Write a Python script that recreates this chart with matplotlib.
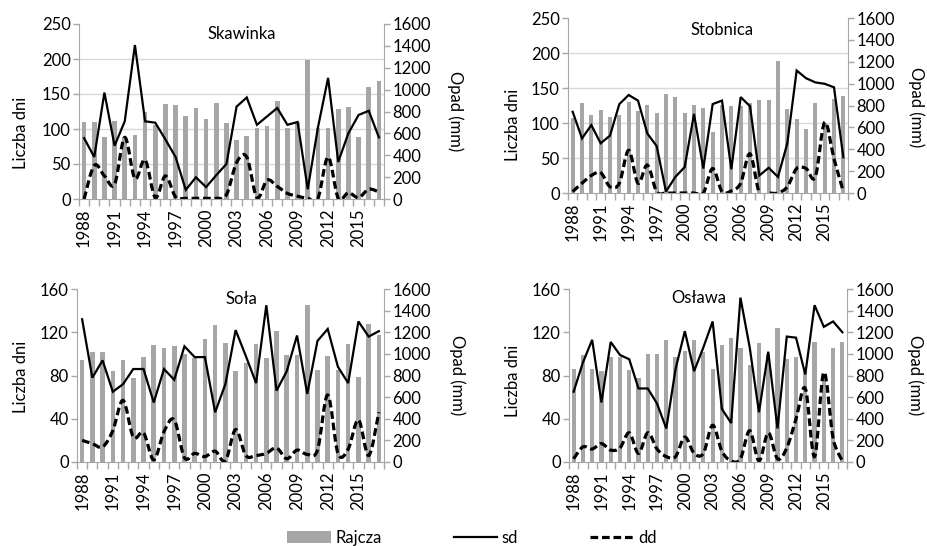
import numpy as np
import matplotlib
matplotlib.use("Agg")
import matplotlib.pyplot as plt
from matplotlib.path import Path
from matplotlib.patches import PathPatch, Patch
from matplotlib.lines import Line2D

plt.rcParams['font.family'] = ['Lato', 'DejaVu Sans']
plt.rcParams['font.size'] = 12

# Years on the x axis.
years = list(range(1988, 2018))

# Skawinka: precipitation (mm, bars) and day counts sd / dd (lines).
skawinka_opad = [704, 704, 570, 717, 563, 582, 800, 678, 870, 858,
                 762, 832, 730, 877, 691, 544, 576, 653, 672, 896,
                 653, 704, 1274, 653, 653, 819, 838, 563, 1024, 1075]
skawinka_sd = [87, 60, 152, 76, 111, 220, 111, 109, 85, 60,
               13, 31, 17, 34, 50, 132, 145, 106, 118, 130,
               106, 110, 14, 102, 173, 53, 94, 120, 126, 88]
skawinka_dd = [0, 48, 33, 21, 88, 29, 56, 2, 33, 3,
               1, 1, 1, 1, 6, 52, 60, 2, 27, 18,
               8, 4, 1, 1, 60, 1, 9, 2, 14, 10]

# Stobnica.
stobnica_opad = [685, 826, 710, 755, 691, 717, 832, 749, 806, 736,
                 909, 877, 730, 806, 774, 557, 806, 800, 800, 819,
                 851, 851, 1210, 768, 678, 582, 819, 640, 864, 890]
stobnica_sd = [116, 78, 97, 71, 82, 127, 140, 132, 85, 67,
               2, 23, 37, 113, 35, 127, 132, 34, 137, 124,
               25, 36, 23, 71, 175, 164, 158, 156, 151, 51]
stobnica_dd = [2, 14, 25, 29, 9, 14, 61, 14, 40, 2,
               0, 0, 0, 0, 0, 35, 2, 3, 14, 56,
               0, 0, 0, 9, 35, 35, 23, 101, 49, 2]

# Sola.
sola_opad = [940, 1020, 1020, 840, 940, 780, 970, 1080, 1050, 1070,
             1000, 960, 1140, 1270, 1100, 840, 920, 1090, 960, 1210,
             990, 990, 1450, 850, 980, 850, 1090, 790, 1280, 1170]
sola_sd = [132, 78, 94, 65, 72, 86, 86, 55, 86, 76,
           107, 97, 97, 46, 72, 122, 98, 73, 145, 66,
           84, 117, 63, 112, 123, 88, 73, 130, 116, 121]
sola_dd = [20, 17, 14, 29, 57, 23, 27, 2, 28, 39,
           4, 8, 5, 10, 1, 30, 6, 6, 8, 13,
           3, 11, 7, 11, 62, 8, 12, 39, 6, 46]

# Oslawa.
oslawa_opad = [860, 990, 860, 840, 970, 970, 850, 780, 1000, 1000,
               1130, 970, 1030, 1130, 1020, 860, 1080, 1150, 1050, 900,
               1100, 1000, 1240, 950, 970, 850, 1110, 800, 1050, 1110]
oslawa_sd = [65, 92, 113, 55, 111, 99, 95, 68, 68, 54,
             31, 86, 121, 84, 106, 130, 49, 36, 152, 106,
             46, 102, 31, 116, 115, 81, 145, 125, 130, 120]
oslawa_dd = [3, 14, 12, 17, 11, 13, 27, 8, 27, 12,
             5, 5, 23, 8, 8, 34, 10, 1, 3, 29,
             1, 27, 3, 13, 40, 68, 5, 83, 22, 1]

GRID = '#d9d9d9'
SPINE = '#a6a6a6'
BAR = '#a6a6a6'


# Smoothed curve (Excel style) built from Bezier segments through the points.
def SmoothPath(x, y):
    n = len(x)
    verts = [(x[0], y[0])]
    codes = [Path.MOVETO]
    for i in range(n - 1):
        xa, ya = (x[i-1], y[i-1]) if i > 0 else (x[i], y[i])
        xb, yb = (x[i+2], y[i+2]) if i + 2 < n else (x[i+1], y[i+1])
        c1 = (x[i] + (x[i+1] - xa) / 6.0, y[i] + (y[i+1] - ya) / 6.0)
        c2 = (x[i+1] - (xb - x[i]) / 6.0, y[i+1] - (yb - y[i]) / 6.0)
        verts += [c1, c2, (x[i+1], y[i+1])]
        codes += [Path.CURVE4] * 3
    return Path(verts, codes)


# Draw one panel.
def Panel(fig, rect, name, opad, sd, dd, lmax, lstep, tpos, lab_l, lab_r):
    ax = fig.add_axes(rect)
    ax2 = ax.twinx()
    ax.set_zorder(ax2.get_zorder() + 1)
    ax.patch.set_visible(False)

    x = np.arange(len(years))
    rmax = 1600

    # Bars on the precipitation axis.
    ax2.bar(x, opad, width=0.45, color=BAR, zorder=2)
    ax2.set_ylim(0, rmax)
    ax2.set_yticks(np.arange(0, rmax + 1, 200))
    nl = int(lmax / lstep) + 1
    ax2.set_yticks(np.linspace(0, rmax, nl), minor=True)
    ax2.yaxis.grid(True, which='minor', color=GRID, lw=1, zorder=0)
    ax2.set_axisbelow(True)
    ax2.tick_params(axis='y', which='major', colors=SPINE, labelcolor='black',
                    length=4, width=1, pad=2)
    ax2.tick_params(axis='y', which='minor', length=0)

    # Lines on the day-count axis.
    ax.plot(x, sd, color='black', lw=1.6, solid_joinstyle='miter')
    ax.add_patch(PathPatch(SmoothPath(x, dd), fill=False, edgecolor='black',
                           lw=2.3, linestyle=(0, (2.4, 1.2))))
    ax.set_ylim(0, lmax)
    ax.set_yticks(np.arange(0, lmax + 1, lstep))
    ax.tick_params(axis='y', colors=SPINE, labelcolor='black', length=4,
                   width=1, pad=2)

    ax.set_xlim(-0.5, len(years) - 0.5)
    ax.set_xticks(x[::3])
    ax.set_xticklabels([str(v) for v in years[::3]], rotation=90)
    ax.set_xticks(np.arange(-0.5, len(years), 1), minor=True)
    ax.tick_params(axis='x', which='major', length=0, pad=7)
    ax.tick_params(axis='x', which='minor', length=5, width=1, colors=SPINE)

    for s in ['top', 'right']:
        ax.spines[s].set_visible(False)
    for s in ['left', 'bottom']:
        ax.spines[s].set_color(SPINE)
    for s in ['top', 'left', 'bottom']:
        ax2.spines[s].set_visible(False)
    ax2.spines['right'].set_color(SPINE)

    ax.text(tpos[0], tpos[1], name, transform=ax.transAxes,
            ha='center', va='center')
    ax.text(lab_l[0], lab_l[1], 'Liczba dni', transform=ax.transAxes,
            rotation=90, ha='center', va='center')
    ax.text(lab_r[0], lab_r[1], 'Opad (mm)', transform=ax.transAxes,
            rotation=270, ha='center', va='center')
    return ax


W, H = 927, 546
fig = plt.figure(figsize=(W / 100, H / 100), dpi=100)

Panel(fig, [79 / W, 1 - 199 / H, 305 / W, 175 / H], 'Skawinka',
      skawinka_opad, skawinka_sd, skawinka_dd, 250, 50,
      (0.535, 0.943), (-0.19, 0.38), (1.233, 0.50))
Panel(fig, [568 / W, 1 - 193 / H, 280 / W, 175 / H], 'Stobnica',
      stobnica_opad, stobnica_sd, stobnica_dd, 250, 50,
      (0.55, 0.93), (-0.196, 0.39), (1.243, 0.49))
Panel(fig, [77 / W, 1 - 462 / H, 307 / W, 173 / H], 'Soła',
      sola_opad, sola_sd, sola_dd, 160, 40,
      (0.537, 0.94), (-0.182, 0.49), (1.238, 0.50))
Panel(fig, [569 / W, 1 - 462 / H, 278 / W, 173 / H], 'Osława',
      oslawa_opad, oslawa_sd, oslawa_dd, 160, 40,
      (0.468, 0.95), (-0.2, 0.47), (1.245, 0.50))

handles = [Patch(facecolor=BAR, edgecolor='none'),
           Line2D([], [], color='black', lw=1.6),
           Line2D([], [], color='black', lw=2.3, linestyle=(0, (2.4, 1.2)))]
fig.legend(handles, ['Rajcza', 'sd', 'dd'], loc='center',
           bbox_to_anchor=(472 / W, 1 - 538 / H), ncol=3, frameon=False,
           handlelength=2.6, handletextpad=0.3, columnspacing=4.3,
           borderpad=0)

fig.savefig('out.png', dpi=100)
